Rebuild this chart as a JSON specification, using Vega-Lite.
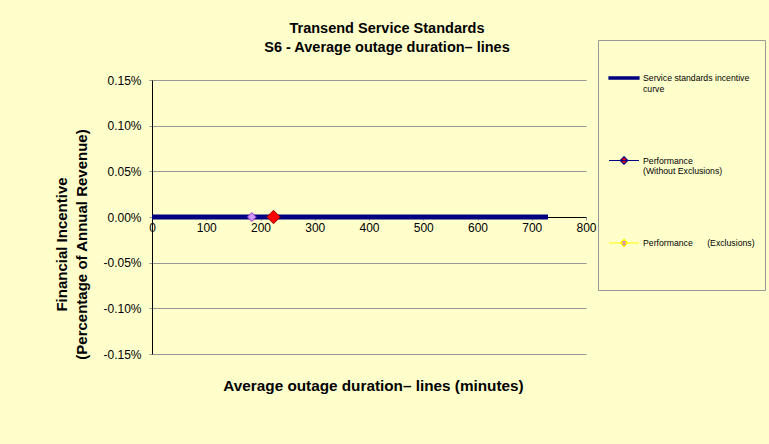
{
  "$schema": "https://vega.github.io/schema/vega-lite/v6.json",
  "width": 434,
  "height": 274,
  "autosize": {"type": "none"},
  "padding": {"left": 152, "top": 80, "right": 183, "bottom": 90},
  "background": "#FFFFCC",
  "config": {
    "view": {"stroke": null},
    "font": "Liberation Sans"
  },
  "title": {
    "text": ["Transend Service Standards", "S6 - Average outage duration\u2013 lines"],
    "font": "Liberation Sans",
    "fontSize": 14.5,
    "fontWeight": "bold",
    "color": "#000000",
    "anchor": "middle",
    "dx": 18,
    "offset": -16,
    "lineHeight": 19
  },
  "data": {
    "values": [
      {"series": "Service standards incentive curve", "minutes": 0, "incentive": 0},
      {"series": "Service standards incentive curve", "minutes": 730, "incentive": 0},
      {"series": "Performance (Exclusions)", "minutes": 184, "incentive": 0},
      {"series": "Performance (Without Exclusions)", "minutes": 224, "incentive": 0}
    ]
  },
  "encoding": {
    "x": {
      "field": "minutes",
      "type": "quantitative",
      "scale": {"domain": [0, 800], "nice": false, "zero": false},
      "axis": {
        "values": [0, 100, 200, 300, 400, 500, 600, 700, 800],
        "offset": -137,
        "grid": false,
        "domainColor": "#000000",
        "domainWidth": 1,
        "ticks": true,
        "tickSize": 3,
        "tickColor": "#999999",
        "labelFont": "Liberation Sans",
        "labelFontSize": 12,
        "labelColor": "#000000",
        "labelPadding": 2,
        "labelFlush": false,
        "labelOverlap": false,
        "title": "Average outage duration\u2013 lines (minutes)",
        "titleFont": "Liberation Sans",
        "titleFontSize": 15.3,
        "titleFontWeight": "bold",
        "titleColor": "#000000",
        "titleX": 221,
        "titleY": 161,
        "titleBaseline": "top"
      }
    },
    "y": {
      "field": "incentive",
      "type": "quantitative",
      "scale": {"domain": [-0.0015, 0.0015], "nice": false, "zero": false},
      "axis": {
        "values": [-0.0015, -0.001, -0.0005, 0, 0.0005, 0.001, 0.0015],
        "format": ".2%",
        "labelExpr": "replace(datum.label, '\u2212', '-')",
        "grid": true,
        "gridColor": "#999999",
        "gridWidth": 1,
        "domainColor": "#000000",
        "domainWidth": 1,
        "ticks": true,
        "tickSize": 3,
        "tickColor": "#999999",
        "labelFont": "Liberation Sans",
        "labelFontSize": 12,
        "labelColor": "#000000",
        "labelPadding": 8,
        "labelFlush": false,
        "labelOverlap": false,
        "title": ["Financial Incentive", "(Percentage of Annual Revenue)"],
        "titleFont": "Liberation Sans",
        "titleFontSize": 15,
        "titleFontWeight": "bold",
        "titleColor": "#000000",
        "titleLineHeight": 20,
        "titleX": -83,
        "titleY": 164
      }
    }
  },
  "layer": [
    {
      "transform": [{"filter": "datum.series == 'Service standards incentive curve'"}],
      "mark": {"type": "line", "color": "#000080", "strokeWidth": 5, "strokeCap": "butt"}
    },
    {
      "transform": [{"filter": "datum.series == 'Performance (Exclusions)'"}],
      "mark": {"type": "point", "shape": "diamond", "filled": true, "fill": "#CC99FF", "stroke": "#9933CC", "strokeWidth": 1, "size": 80, "opacity": 1}
    },
    {
      "transform": [{"filter": "datum.series == 'Performance (Without Exclusions)'"}],
      "mark": {"type": "point", "shape": "diamond", "filled": true, "fill": "#FF0000", "stroke": "#990000", "strokeWidth": 1, "size": 180, "opacity": 1}
    },
    {
      "transform": [{"filter": "datum.minutes < 0"}],
      "mark": {"type": "point", "filled": true, "opacity": 1},
      "encoding": {
        "shape": {
          "field": "series",
          "type": "nominal",
          "scale": {
            "domain": ["Service standards incentive curve", "Performance (Without Exclusions)", "Performance (Exclusions)"],
            "range": ["M-1,-0.27H1V-0.13H-1Z", "M-1,-0.2H1M0,-0.45L0.25,-0.2L0,0.05L-0.25,-0.2Z", "M-1,-0.2H1M0,-0.45L0.25,-0.2L0,0.05L-0.25,-0.2Z"]
          },
          "legend": {
            "orient": "none",
            "legendX": 446,
            "legendY": -40,
            "title": " ",
            "titleFontSize": 8,
            "titlePadding": 7,
            "fillColor": "#FFFFCC",
            "strokeColor": "#999999",
            "padding": 10,
            "symbolSize": 900,
            "symbolStrokeWidth": 1.2,
            "labelFont": "Liberation Sans",
            "labelFontSize": 8.7,
            "labelColor": "#000000",
            "labelLimit": 300,
            "labelOffset": 3,
            "labelBaseline": "alphabetic",
            "rowPadding": 53.5,
            "labelExpr": "datum.value == 'Service standards incentive curve' ? ['Service standards incentive', 'curve'] : datum.value == 'Performance (Without Exclusions)' ? ['Performance', '(Without Exclusions)'] : ['Performance\u00a0\u00a0\u00a0\u00a0\u00a0\u00a0(Exclusions)', '\u00a0', '\u00a0', '\u00a0']",
            "encode": {
              "labels": {"lineHeight": {"value": 10.5}},
              "symbols": {"fill": {"value": {"expr": "scale('fill', datum.value)"}}, "opacity": {"value": 1}}
            }
          }
        },
        "fill": {
          "field": "series",
          "type": "nominal",
          "scale": {
            "domain": ["Service standards incentive curve", "Performance (Without Exclusions)", "Performance (Exclusions)"],
            "range": ["#000080", "#FF0000", "#CC66FF"]
          },
          "legend": {
            "orient": "none",
            "legendX": 446,
            "legendY": -40,
            "title": " ",
            "titleFontSize": 8,
            "titlePadding": 7,
            "fillColor": "#FFFFCC",
            "strokeColor": "#999999",
            "padding": 10,
            "symbolSize": 900,
            "symbolStrokeWidth": 1.2,
            "labelFont": "Liberation Sans",
            "labelFontSize": 8.7,
            "labelColor": "#000000",
            "labelLimit": 300,
            "labelOffset": 3,
            "labelBaseline": "alphabetic",
            "rowPadding": 53.5,
            "labelExpr": "datum.value == 'Service standards incentive curve' ? ['Service standards incentive', 'curve'] : datum.value == 'Performance (Without Exclusions)' ? ['Performance', '(Without Exclusions)'] : ['Performance\u00a0\u00a0\u00a0\u00a0\u00a0\u00a0(Exclusions)', '\u00a0', '\u00a0', '\u00a0']",
            "encode": {
              "labels": {"lineHeight": {"value": 10.5}},
              "symbols": {"fill": {"value": {"expr": "scale('fill', datum.value)"}}, "opacity": {"value": 1}}
            }
          }
        },
        "stroke": {
          "field": "series",
          "type": "nominal",
          "scale": {
            "domain": ["Service standards incentive curve", "Performance (Without Exclusions)", "Performance (Exclusions)"],
            "range": ["#000080", "#000080", "#FFFF00"]
          },
          "legend": {
            "orient": "none",
            "legendX": 446,
            "legendY": -40,
            "title": " ",
            "titleFontSize": 8,
            "titlePadding": 7,
            "fillColor": "#FFFFCC",
            "strokeColor": "#999999",
            "padding": 10,
            "symbolSize": 900,
            "symbolStrokeWidth": 1.2,
            "labelFont": "Liberation Sans",
            "labelFontSize": 8.7,
            "labelColor": "#000000",
            "labelLimit": 300,
            "labelOffset": 3,
            "labelBaseline": "alphabetic",
            "rowPadding": 53.5,
            "labelExpr": "datum.value == 'Service standards incentive curve' ? ['Service standards incentive', 'curve'] : datum.value == 'Performance (Without Exclusions)' ? ['Performance', '(Without Exclusions)'] : ['Performance\u00a0\u00a0\u00a0\u00a0\u00a0\u00a0(Exclusions)', '\u00a0', '\u00a0', '\u00a0']",
            "encode": {
              "labels": {"lineHeight": {"value": 10.5}},
              "symbols": {"fill": {"value": {"expr": "scale('fill', datum.value)"}}, "opacity": {"value": 1}}
            }
          }
        }
      }
    }
  ]
}
